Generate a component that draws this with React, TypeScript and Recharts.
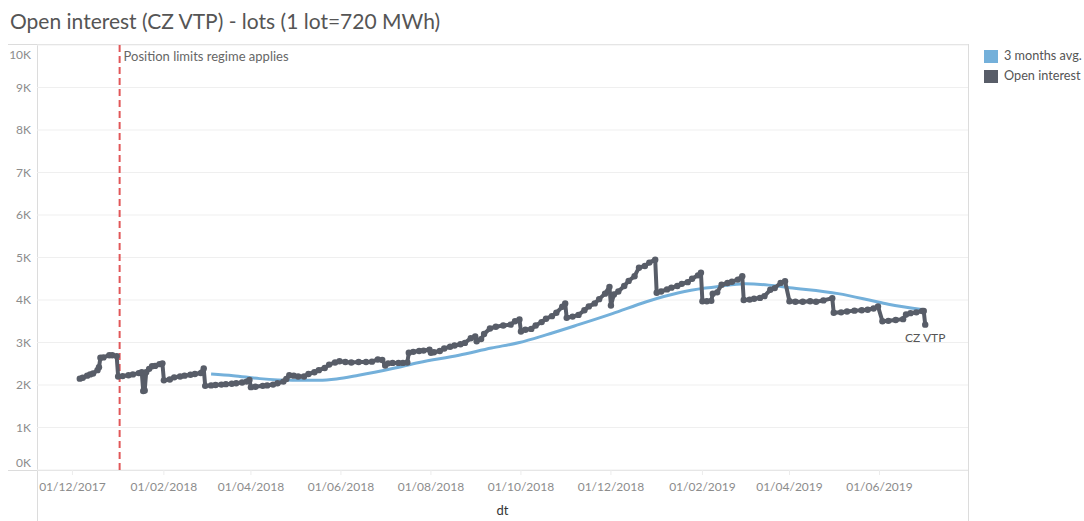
import React from 'react';
import { ComposedChart, Line, XAxis, YAxis, CartesianGrid, ReferenceLine } from 'recharts';

// ---- data ----
const oiDates = [
  '2017-12-06','2017-12-08','2017-12-11','2017-12-13','2017-12-15','2017-12-18','2017-12-19','2017-12-20','2017-12-22','2017-12-26','2017-12-28','2017-12-31',
  '2018-01-01','2018-01-04','2018-01-08','2018-01-11','2018-01-15','2018-01-17','2018-01-18','2018-01-19','2018-01-20','2018-01-22','2018-01-24','2018-01-26','2018-01-29','2018-01-31',
  '2018-02-01','2018-02-05','2018-02-08','2018-02-12','2018-02-15','2018-02-19','2018-02-22','2018-02-26','2018-02-27','2018-02-28',
  '2018-03-01','2018-03-05','2018-03-08','2018-03-12','2018-03-15','2018-03-19','2018-03-22','2018-03-26','2018-03-29','2018-03-31',
  '2018-04-01','2018-04-04','2018-04-09','2018-04-12','2018-04-16','2018-04-19','2018-04-23','2018-04-25','2018-04-27','2018-04-30',
  '2018-05-03','2018-05-07','2018-05-10','2018-05-14','2018-05-17','2018-05-21','2018-05-24','2018-05-28','2018-05-31',
  '2018-06-04','2018-06-08','2018-06-13','2018-06-18','2018-06-22','2018-06-26','2018-06-29',
  '2018-07-01','2018-07-03','2018-07-06','2018-07-10','2018-07-13','2018-07-16','2018-07-17','2018-07-20','2018-07-24','2018-07-27','2018-07-31',
  '2018-08-01','2018-08-03','2018-08-07','2018-08-10','2018-08-14','2018-08-17','2018-08-21','2018-08-24','2018-08-28','2018-08-31',
  '2018-09-01','2018-09-04','2018-09-06','2018-09-10','2018-09-14','2018-09-19','2018-09-24','2018-09-27','2018-09-30',
  '2018-10-01','2018-10-04','2018-10-08','2018-10-11','2018-10-15','2018-10-18','2018-10-22','2018-10-25','2018-10-29','2018-10-31',
  '2018-11-01','2018-11-05','2018-11-09','2018-11-13','2018-11-16','2018-11-20','2018-11-23','2018-11-27','2018-11-30',
  '2018-12-01','2018-12-03','2018-12-06','2018-12-10','2018-12-13','2018-12-17','2018-12-20','2018-12-24','2018-12-27','2018-12-31',
  '2019-01-01','2019-01-04','2019-01-08','2019-01-11','2019-01-15','2019-01-18','2019-01-22','2019-01-25','2019-01-29','2019-01-31',
  '2019-02-01','2019-02-04','2019-02-07','2019-02-08','2019-02-11','2019-02-14','2019-02-18','2019-02-21','2019-02-25','2019-02-28',
  '2019-03-01','2019-03-05','2019-03-08','2019-03-12','2019-03-15','2019-03-19','2019-03-22','2019-03-26','2019-03-29',
  '2019-04-01','2019-04-05','2019-04-10','2019-04-15','2019-04-19','2019-04-24','2019-04-30',
  '2019-05-01','2019-05-06','2019-05-10','2019-05-15','2019-05-20','2019-05-24','2019-05-28','2019-05-31',
  '2019-06-03','2019-06-07','2019-06-12','2019-06-17','2019-06-19','2019-06-22','2019-06-26','2019-06-30','2019-07-01','2019-07-02',
];
const oiValues = [
  2150,2170,2220,2250,2270,2350,2420,2640,2650,2700,2700,2680,
  2200,2210,2230,2250,2280,2300,1860,1870,2300,2380,2440,2450,2490,2510,
  2110,2130,2180,2200,2220,2240,2260,2280,2300,2390,
  1980,1990,2000,2010,2020,2030,2040,2060,2080,2120,
  1950,1960,1980,1990,2010,2040,2080,2140,2230,2220,
  2200,2200,2260,2300,2350,2400,2480,2530,2560,
  2540,2530,2540,2540,2550,2600,2590,
  2460,2510,2520,2520,2520,2530,2760,2780,2800,2810,2830,
  2760,2770,2800,2860,2900,2930,2960,2990,3100,3140,
  3030,3080,3200,3330,3370,3400,3420,3500,3540,
  3260,3300,3320,3400,3480,3560,3620,3700,3840,3920,
  3580,3610,3650,3760,3850,3920,4020,4150,4310,
  3870,4130,4200,4330,4450,4560,4760,4800,4880,4950,
  4170,4200,4250,4290,4330,4380,4420,4500,4580,4640,
  3970,3970,3980,4150,4180,4360,4400,4430,4480,4560,
  4000,4010,4030,4050,4090,4240,4280,4400,4440,
  3970,3960,3960,3970,3960,3990,4040,
  3700,3710,3730,3750,3760,3770,3800,3850,
  3500,3510,3530,3550,3660,3690,3710,3740,3740,3420,
];
const avgDates = [
  '2018-03-05','2018-03-20','2018-04-07','2018-04-29','2018-05-17','2018-05-29','2018-06-13','2018-07-06','2018-07-24','2018-08-20',
  '2018-09-11','2018-09-30','2018-10-18','2018-11-09','2018-12-02','2018-12-25','2019-01-16','2019-02-03','2019-02-12','2019-03-02',
  '2019-03-18','2019-04-01','2019-05-04','2019-05-25','2019-06-07','2019-07-01',
];
const avgValues = [
  2260,2220,2150,2110,2110,2140,2230,2390,2530,2700,
  2870,3000,3180,3420,3680,3960,4170,4280,4320,4380,
  4350,4290,4150,4000,3900,3770,
];
const xTickDates = ['2017-12-01','2018-02-01','2018-04-01','2018-06-01','2018-08-01','2018-10-01','2018-12-01','2019-02-01','2019-04-01','2019-06-01'];
const yTicks = [0,1000,2000,3000,4000,5000,6000,7000,8000,9000,10000];
const xDomainDates = ['2017-11-07','2019-07-31'];
const regimeDate = '2018-01-02';
const regimeLabel = 'Position limits regime applies';
const seriesNames = ['3 months avg.', 'Open interest'];
const endLabel = 'CZ VTP';
const title = 'Open interest (CZ VTP) - lots (1 lot=720 MWh)';
const xAxisTitle = 'dt';

// ---- helpers ----
const ts = (s: string) => Date.parse(s + 'T00:00:00Z');
const oiData = oiDates.map((d, i) => ({ t: ts(d), v: oiValues[i] }));
const avgData = avgDates.map((d, i) => ({ t: ts(d), v: avgValues[i] }));
const xTicks = xTickDates.map(ts);
const pad = (n: number) => (n < 10 ? '0' + n : '' + n);
const fmtDate = (v: number) => {
  const d = new Date(v);
  return `${pad(d.getUTCDate())}/${pad(d.getUTCMonth() + 1)}/${d.getUTCFullYear()}`;
};

const FONT = 'Lato, "Open Sans", sans-serif';
const DARK = '#585d68';
const BLUE = '#74b0da';
const RED = '#e15759';

const YTick = (props: any) => {
  const { x, y, payload } = props;
  let dy = 4;
  if (payload.value === 10000) dy = 14;
  if (payload.value === 0) dy = -3;
  return (
    <text x={x} y={y + dy} textAnchor="end" fill="#8c8c8c" fontSize={12} fontFamily={FONT}>
      {payload.value / 1000}K
    </text>
  );
};

const XTick = (props: any) => {
  const { x, y, payload } = props;
  return (
    <text x={x} y={y + 14} textAnchor="middle" fill="#8c8c8c" fontSize={12} fontFamily={FONT}>
      {fmtDate(payload.value)}
    </text>
  );
};

const EndLabel = (props: any) => {
  const { x, y, index } = props;
  if (index !== oiData.length - 1) return null;
  return (
    <text x={x} y={y + 17} textAnchor="middle" fill="#555" fontSize={12} fontFamily={FONT}>
      {endLabel}
    </text>
  );
};

const RegimeLabel = (props: any) => {
  const { viewBox } = props;
  return (
    <text x={viewBox.x + 4} y={viewBox.y + 16} fill="#666" fontSize={13} fontFamily={FONT}>
      {regimeLabel}
    </text>
  );
};

const line = (style: React.CSSProperties) => <div style={{ position: 'absolute', background: '#dcdcdc', ...style }} />;

export default function App() {
  return (
    <div style={{ position: 'absolute', left: 0, top: 0, width: 1084, height: 521, background: '#fff', overflow: 'hidden', fontFamily: FONT }}>
      <div style={{ position: 'absolute', left: 10, top: 8, fontSize: 21, color: '#555', whiteSpace: 'nowrap' }}>{title}</div>
      {line({ left: 8, top: 44, width: 960, height: 1 })}
      {line({ left: 8, top: 470, width: 960, height: 1 })}
      {line({ left: 37, top: 44, width: 1, height: 477 })}
      {line({ left: 968, top: 44, width: 1, height: 477 })}
      <div style={{ position: 'absolute', left: 0, top: 0 }}>
        <ComposedChart width={1084} height={521} margin={{ top: 45, right: 116, bottom: 0, left: 0 }}>
          <CartesianGrid horizontal vertical={false} stroke="#efefef" />
          <XAxis
            type="number"
            dataKey="t"
            scale="time"
            domain={xDomainDates.map(ts)}
            ticks={xTicks}
            allowDataOverflow
            height={51}
            axisLine={false}
            tickLine={{ stroke: '#ececec' }}
            tickSize={5}
            tick={<XTick />}
            interval={0}
          />
          <YAxis
            type="number"
            domain={[0, 10000]}
            ticks={yTicks}
            width={37}
            axisLine={false}
            tickLine={false}
            tickSize={4}
            tickMargin={2}
            tick={<YTick />}
            interval={0}
          />
          <ReferenceLine x={ts(regimeDate)} stroke={RED} strokeWidth={2} strokeDasharray="7 4" label={<RegimeLabel />} />
          <Line
            data={avgData}
            dataKey="v"
            type="monotone"
            stroke={BLUE}
            strokeWidth={3}
            dot={false}
            isAnimationActive={false}
            name={seriesNames[0]}
          />
          <Line
            data={oiData}
            dataKey="v"
            type="linear"
            stroke={DARK}
            strokeWidth={4}
            strokeLinejoin="round"
            dot={{ r: 3.2, fill: DARK, stroke: DARK, strokeWidth: 0 }}
            isAnimationActive={false}
            name={seriesNames[1]}
            label={<EndLabel />}
          />
        </ComposedChart>
      </div>
      <div style={{ position: 'absolute', left: 984, top: 50, width: 14, height: 13, background: BLUE }} />
      <div style={{ position: 'absolute', left: 1004, top: 47, fontSize: 12.7, color: '#555', whiteSpace: 'nowrap' }}>{seriesNames[0]}</div>
      <div style={{ position: 'absolute', left: 984, top: 70, width: 14, height: 13, background: DARK }} />
      <div style={{ position: 'absolute', left: 1004, top: 67, fontSize: 12.7, color: '#555', whiteSpace: 'nowrap' }}>{seriesNames[1]}</div>
      <div style={{ position: 'absolute', left: 37, width: 931, top: 502, textAlign: 'center', fontSize: 13, color: '#333' }}>{xAxisTitle}</div>
    </div>
  );
}
